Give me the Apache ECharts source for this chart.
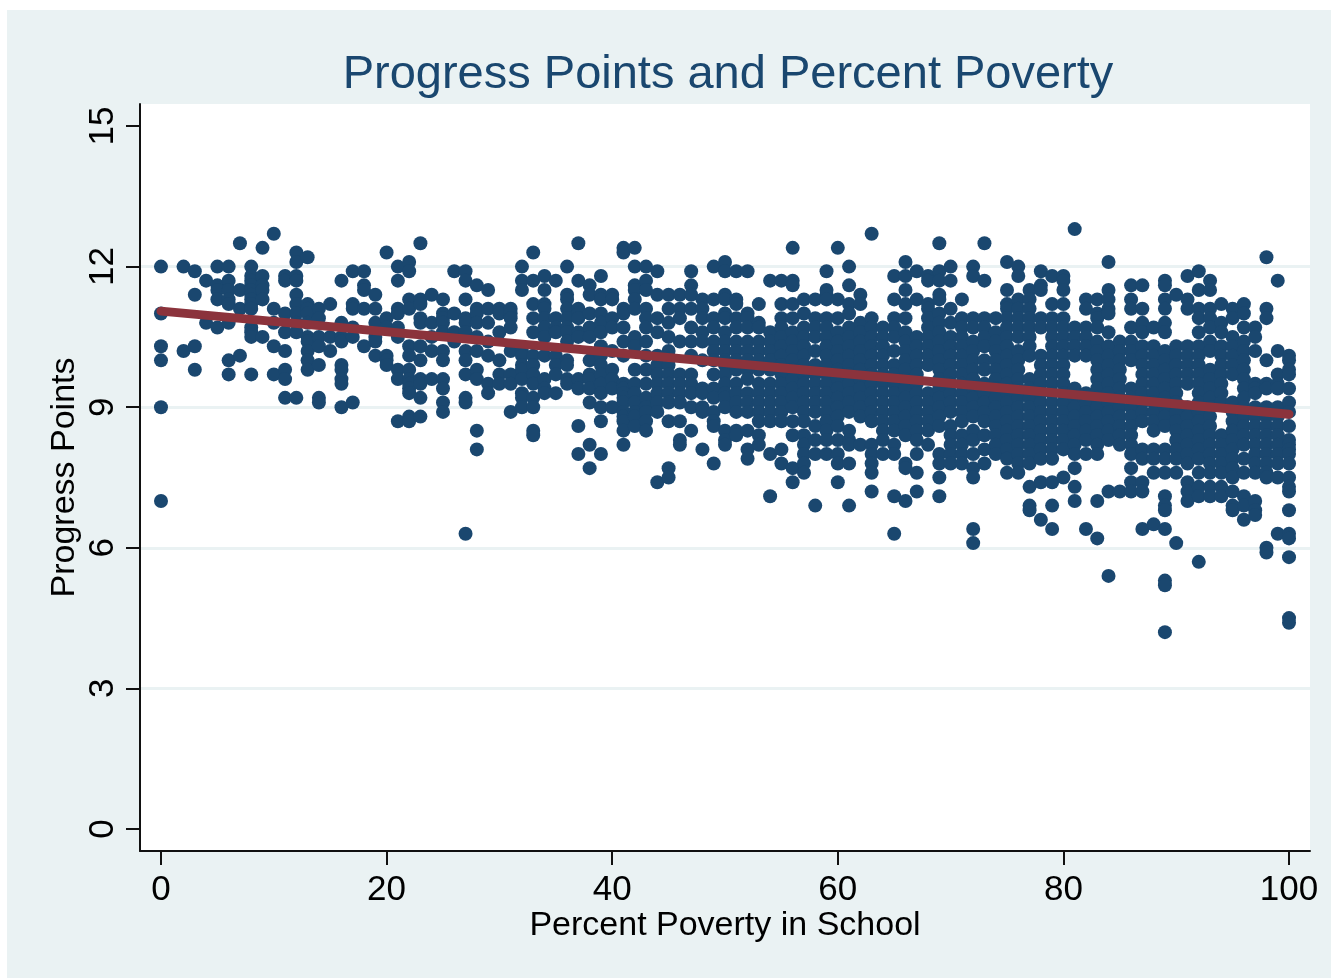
<!DOCTYPE html>
<html><head><meta charset="utf-8">
<script src="https://cdn.jsdelivr.net/npm/echarts@6/dist/echarts.min.js"></script>
<style>html,body{margin:0;padding:0;background:#fff}
#panel{position:absolute;left:7px;top:10px;width:1324px;height:968px;background:#eaf2f3}
#c{position:absolute;left:0;top:0;width:1331px;height:979px}</style></head>
<body><div id="panel"></div><div id="c"></div>
<script>
const chartTitle = 'Progress Points and Percent Poverty';
const xName = 'Percent Poverty in School';
const yName = 'Progress Points';
const xTicks = [0,20,40,60,80,100];
const yTicks = [0,3,6,9,12,15];
const fitX = [0,100];
const fitY = [11.05,8.85];
// progress values per school, listed by percent poverty (index + band start)
const band0 = [
[12,11,10.3,10,9,7],[],[12,10.2],[11.9,11.4,10.3,9.8],[11.7,10.8],
[12,11.6,11.5,11.3,10.7],[12,11.7,11.5,11.3,11.2,10.8,10,9.7],[12.5,11.5,11.1,10.1],
[12,11.8,11.7,11.6,11.5,11.4,11.3,11.2,11.1,10.7,10.6,10.5,9.7],[12.4,11.8,11.6,11.5,11.3,10.5],
[12.7,11.1,10.8,10.3,9.7],[11.8,11.7,11,10.6,10.2,9.8,9.6,9.2],[12.3,12.1,11.8,11.7,11.4,11.2,11,10.8,10.6,9.2],
[12.2,11.2,11.1,11,10.8,10.5,10.4,10.2,10,9.8],[11.1,10.9,10.5,10.3,9.9,9.2,9.1],[11.2,10.5,10.2],
[11.7,10.8,10.5,10.4,9.9,9.8,9.6,9.5,9],[11.9,11.2,11.1,10.7,10.5,9.1],[11.9,11.6,11.5,11.1,10.3],
[11.4,11.1,10.8,10.5,10.4,10.1],[12.3,10.9,10.7,10.1,10,9.9],[12,11.7,11.1,11,10.7,10.5,9.8,9.6,8.7],
[12.1,11.9,11.3,11.1,10.3,10.1,9.8,9.6,9.5,9.4,9.3,8.8,8.7],[12.5,11.3,11.2,10.9,10.8,10.3,10,9.6,9.5,9.2,8.8],
[11.4,10.8,10.5,10.2,9.6]];
const band25 = [
[11.3,11,10.9,10.8,10.6,10.2,10,9.6,9.4,9.1,8.9],[11.9,11,10.6,10.4],[11.9,11.7,11.3,10.9,10.8,10.6,10.2,10,9.7,9.2,9.1,6.3],
[11.6,11.1,11,10.8,10.5,10.2,9.8,9.6,8.5,8.1],[11.5,11.1,10.8,10.4,10.1,9.5,9.3],[11.1,11,10.6,10,9.7,9.5],
[11.1,11,10.9,10.7,10.2,9.7,9.5,8.9],[12,11.7,11.5,10.2,10.1,9.9,9.8,9.6,9.3,9.2,9],[12.3,11.7,11.2,10.9,10.6,10.1,9.9,9.7,9.5,9.2,9,8.5,8.4],
[11.8,11.5,11.2,11.1,10.9,10.7,10.5,10.1,9.6,9.4,9.3],[11.7,10.9,10.7,10.6,10.1,9.9,9.7,9.3],[12,11.4,11.3,11.1,10.9,10.7,10.6,10.4,10,9.9,9.6,9.5],
[12.5,11.7,11.1,11,10.9,10.6,10.5,9.6,9.4,8.6,8],[11.6,11.4,11,10.7,10.5,10,9.7,9.6,9.4,9.1,8.2,7.7],[11.8,11.4,11.3,11,10.8,10.6,10.3,10.1,9.9,9.7,9.5,9.3,9,8.7,8],
[11.4,11.3,10.9,10.7,10.2,9.8,9.6,9.4,9],[12.4,12.3,11.1,11,10.7,10.4,10.1,9.5,9.4,9.3,9.2,9.1,8.9,8.8,8.7,8.5,8.2],[12.4,12,11.6,11.5,11.3,11.1,10.5,10.3,9.8,9.5,9.3,9.1,8.9,8.8,8.6],
[12,11.7,11.5,11.1,10.9,10.7,10.4,10.1,9.8,9.5,9.2,9,8.9,8.7,8.5],[11.9,11.4,10.9,10.6,10.1,9.9,9.7,9.5,9.3,9.1,8.9,7.4],[11.4,11.1,10.8,10.5,10.2,9.9,9.7,9.5,9.3,9.1,8.7,7.7,7.5],
[11.4,11.1,10.9,10.4,9.7,9.5,9.3,9.1,8.7,8.3,8.2],[11.9,11.6,11.4,11.1,10.7,10.4,10.1,9.7,9.5,9.3,9,8.5],[11.3,11.1,10.9,10.6,10.4,10,9.4,9.3,9,8.9,8.1],
[12,11.3,10.9,10.7,10.4,10.2,10,9.7,9.4,9.2,8.9,8.7,8.6,7.8]];
const band50 = [
[12.1,11.9,11.4,11.3,11,10.9,10.6,10.4,10.2,10,9.9,9.7,9.5,9.3,9.2,9,8.5,8.3,8.2],[11.9,11.3,11.2,10.9,10.7,10.4,10.2,10,9.8,9.5,9.3,9.1,8.9,8.5,8.4],
[11.9,11,10.9,10.7,10.4,10.2,10,9.8,9.6,9.3,9.1,8.9,8.5,8.1,7.9],[11.2,10.8,10.7,10.4,10.2,10,9.8,9.5,9.3,9.1,8.9,8.7,8.4,8.2],
[11.7,10.6,10.4,10.2,10,9.8,9.5,9.3,9.1,8.9,8.7,8,7.1],[11.7,11.2,10.9,10.7,10.5,10.3,10.1,9.9,9.7,9.5,9.3,9.1,8.9,8.7,8.1,7.8],
[12.4,11.7,11.6,11.2,10.9,10.6,10.4,10.2,10,9.8,9.6,9.4,9.2,9,8.7,8.4,7.7,7.4],[11.3,11,10.7,10.5,10.3,10.1,9.9,9.7,9.5,9.3,9.1,8.9,8.7,8.4,8.2,8,7.8,7.6],
[11.3,10.9,10.7,10.5,10.2,9.9,9.7,9.5,9.3,9.1,8.9,8.6,8.3,8,6.9],[11.9,11.5,11.4,11.3,10.9,10.7,10.5,10.3,10.1,9.9,9.7,9.5,9.3,9.1,8.9,8.7,8.5,8.3,8],
[12.4,11.3,10.9,10.6,10.4,10.2,10,9.8,9.6,9.4,9.2,9,8.8,8.6,8.3,8,7.8,7.4],[12,11.6,11.2,11,10.7,10.5,10.3,10.1,9.9,9.7,9.5,9.3,9.1,8.9,8.5,8.3,8.2,7.8,6.9],
[11.4,11.2,10.8,10.6,10.4,10.2,10,9.8,9.6,9.4,9.2,9,8.8,8.2],[12.7,10.9,10.7,10.5,10.3,10.1,9.9,9.7,9.5,9.3,9.1,8.9,8.7,8.2,8,7.8,7.6,7.2],
[10.7,10.5,10.3,10.1,9.9,9.7,9.5,9.3,9.1,8.9,8.7,8.5,8.3,8],[11.8,11.3,10.9,10.7,10.5,10.2,9.9,9.7,9.5,9.3,9.1,8.9,8.7,8.5,8.2,8,7.1,6.3],
[12.1,11.8,11.5,11.2,10.9,10.6,10.4,10.2,10,9.8,9.6,9.4,9.2,9,8.8,8.6,8.4,7.8,7.7,7],[11.9,11.3,10.5,10.3,10.1,9.9,9.7,9.5,9.3,9.1,8.9,8.7,8.5,8.3,8,7.6,7.2],
[11.8,11.7,11.2,11.1,10.9,10.7,10.5,10.3,10.1,9.9,9.3,9.1,8.9,8.7,8.5,8.2],[12.5,11.9,11.7,11.4,11.3,11,10.8,10.6,10.4,10.2,10,9.8,9.6,9.4,9.2,9,8.8,8.6,8,7.8,7.5,7.1],
[12,11.7,11.1,10.8,10.5,10.3,10.1,9.9,9.7,9.5,9.3,9.1,8.9,8.6,8.4,8.2,8,7.8],[11.3,10.9,10.7,10.5,10.3,10.1,9.9,9.7,9.5,9.3,9.1,8.9,8.7,8.4,8.2,8,7.8],
[12,11.8,10.9,10.7,10.4,10.2,10,9.8,9.6,9.4,9.2,9,8.8,8.5,8.3,8,7.7,7.5,6.4,6.1],[12.5,11.7,10.9,10.7,10.5,10.3,10,9.8,9.5,9.3,9.1,8.9,8.7,8.4,8.1,7.8],
[10.9,10.6,10.4,10.2,10,9.8,9.6,9.4,9.2,9,8.8,8.6,8.4,8.2,8]];
const band75 = [
[12.1,11.5,11.2,11.1,10.9,10.7,10.5,10.3,10.1,9.9,9.7,9.5,9.3,9.1,8.9,8.7,8.5,8.3,8.1,7.9,7.6],
[12,11.8,11.3,11.1,10.9,10.7,10.5,10.2,10,9.8,9.6,9.4,9.2,9,8.8,8.6,8.4,8.2,8,7.8,7.6],
[11.5,11.3,11.1,10.9,10.7,10.5,10.3,10.1,9.6,9.4,9.2,9,8.8,8.6,8.4,8.2,8,7.8,7.3,6.9,6.8],
[11.9,11.6,11.5,10.9,10.7,10.1,9.9,9.7,9.5,9.3,9.1,8.9,8.7,8.5,8.3,8.1,7.9,7.4,6.6],
[11.8,11.2,10.9,10.7,10.5,10.3,10.1,9.9,9.7,9.5,9.3,9.1,8.9,8.7,8.5,8.3,8.1,7.9,7.4,6.9,6.4],
[11.8,11.7,11.5,11.2,10.9,10.7,10.5,10.3,10.1,9.9,9.7,9.5,9.3,9.1,8.9,8.7,8.5,8.3,8.1,7.5],
[12.8,10.7,10.5,10.3,10.1,9.4,9.2,9,8.8,8.6,8.4,8.2,8,7.7,7.3,7],
[11.3,11.1,10.7,10.5,10.3,10.1,9.3,9.1,8.9,8.7,8.5,8.3,8,6.4],
[11.3,11,10.9,10.7,10.4,10.2,10,9.8,9.6,9.4,9.2,9,8.8,8.6,8.4,8.2,8,7,6.2],
[12.1,11.5,11.3,11.1,11,10.6,10.3,10.1,9.9,9.7,9.5,9.3,9.1,8.9,8.7,8.5,8.3,7.2,5.4],
[10.4,10.2,10,9.8,9.6,9.4,9.2,9,8.8,8.6,8.4,8.2,7.2],
[11.6,11.3,11.1,10.7,10.4,10.2,10,9.4,9.2,9,8.8,8.6,8.4,8.2,8,7.7,7.4,7.2],
[11.6,11.1,10.8,10.6,10.3,10.1,9.9,9.7,9.5,9.3,9.1,8.9,8.7,8.1,7.9,7.4,7.2,6.4],
[10.7,10.3,10.1,9.9,9.7,9.5,9.3,9.1,8.9,8.7,8.5,8.1,7.9,7.6,6.5],
[11.7,11.6,11.3,11.1,10.8,10.6,10.2,10,9.8,9.6,9.4,9.2,9,8.8,8.6,8.1,7.9,7.6,7.1,6.9,6.8,6.4,5.3,5.2,4.2],
[11.4,10.3,10.1,9.9,9.7,9.5,9.3,9.1,8.9,8.7,8.5,8.3,8.1,7.9,7.6,6.1],
[11.8,11.3,11.1,10.3,10.1,9.9,9.7,9.5,9,8.8,8.6,8.4,8.2,8,7.8,7.4,7.2,7],
[11.9,11.5,11.1,10.9,10.6,10.3,10.1,9.9,9.7,9.5,9.3,9.1,8.9,8.7,8.5,8.3,8.1,7.9,7.6,7.3,7.1,5.7],
[11.7,11.5,11.1,10.9,10.7,10.4,10.2,9.8,9.6,9.4,9.2,9,8.8,8.6,8.4,8.2,8,7.8,7.6,7.3,7.1],
[11.2,10.8,10.6,10.3,10.1,9.9,9.7,9.5,9.3,9.1,8.4,8.2,8,7.8,7.6,7.3,7.1],
[11.1,10.9,10.5,10.3,10.1,9.9,9.7,9.1,8.9,8.7,8.5,8.3,8.1,7.9,7.7,7.5,7.2,6.9,6.8],
[11.2,11,10.7,10.4,10.2,10,9.8,9.6,9.4,9.2,9,8.8,8.6,8.4,8.2,7.9,7.6,7.1,6.9,6.6],
[10.7,10.5,10.2,9.5,9.4,9.3,9,8.8,8.6,8.4,8.2,8,7.8,7.6,7,6.8,6.7],
[12.2,11.1,10.9,10,9.5,9.4,9,8.8,8.6,8.4,8.2,8,7.8,7.6,7.5,6,5.9],
[11.7,10.2,9.7,9.5,9.4,9,8.8,8.6,8.4,8.2,8,7.8,7.5,6.3],
[10.1,10,9.8,9.7,9.4,9.1,8.9,8.6,8.3,8.2,8.1,8,7.8,7.5,7.3,7.2,6.8,6.3,6.2,5.8,4.5,4.4]];

const scatterData = [];
[[0,band0],[25,band25],[50,band50],[75,band75]].forEach(([start,band])=>{
  band.forEach((col,i)=>col.forEach(v=>scatterData.push([start+i,v])));
});
const fitData = fitX.map((x,i)=>[x,fitY[i]]);

const font = '"Liberation Sans", Arial, sans-serif';
const chart = echarts.init(document.getElementById('c'),null,{renderer:'canvas'});
const grey = '#eaf2f3';
const axisCommon = {
  axisLine:{show:true,onZero:false,lineStyle:{color:'#111',width:2}},
  nameMoveOverlap:false,
  nameTextStyle:{color:'#000',fontFamily:font,fontSize:34}
};
chart.setOption({
  animation:false,
  backgroundColor:'transparent',
  title:{text:chartTitle,left:723,top:47,textAlign:'center',textStyle:{color:'#1a476f',fontFamily:font,fontSize:47,fontWeight:'normal'}},
  grid:{left:140,right:21,top:104,bottom:128,show:true,backgroundColor:'#fff',borderWidth:0},
  xAxis:{type:'value',min:-1.86,max:101.86,name:xName,nameLocation:'middle',nameGap:58,
    ...axisCommon,
    axisTick:{show:true,length:14,customValues:xTicks,lineStyle:{color:'#111',width:2}},
    axisLabel:{customValues:xTicks,color:'#000',fontFamily:font,fontSize:35,margin:22},
    splitLine:{show:false}},
  yAxis:{type:'value',min:-0.47,max:15.47,name:yName,nameLocation:'middle',nameGap:58,
    ...axisCommon,
    axisTick:{show:true,length:14,customValues:yTicks,lineStyle:{color:'#111',width:2}},
    axisLabel:{customValues:yTicks,rotate:90,color:'#000',fontFamily:font,fontSize:35,margin:19},
    splitLine:{show:true,lineStyle:{color:['#fff',grey,grey,grey,grey,'#fff'],width:3}}},
  series:[
    {type:'scatter',data:scatterData,symbol:'circle',symbolSize:14,itemStyle:{color:'#1a476f',opacity:1},silent:true,z:2},
    {type:'line',data:fitData,symbol:'none',lineStyle:{color:'#8b333c',width:9,cap:'round'},silent:true,z:3}
  ]
});
</script></body></html>
